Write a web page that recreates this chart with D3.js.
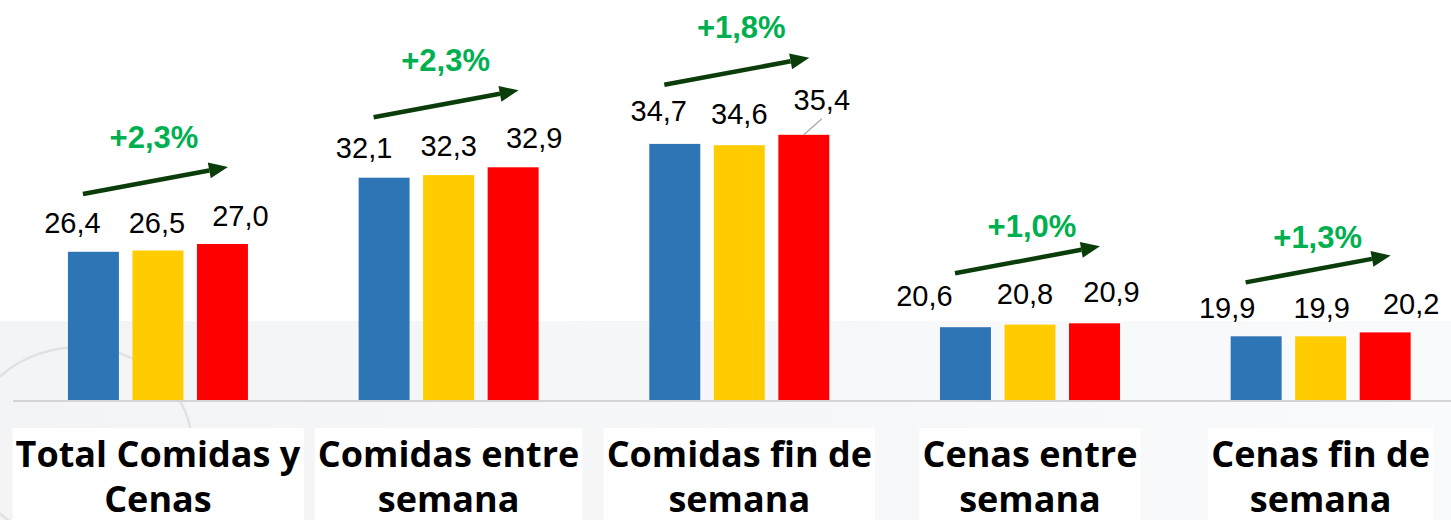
<!DOCTYPE html>
<html>
<head>
<meta charset="utf-8">
<script src="https://cdn.jsdelivr.net/npm/d3@7"></script>
<style>
	html, body { margin: 0; padding: 0; background: #fff; }
	svg { display: block; }
</style>
</head>
<body>
<div id="chart"></div>
<script>
// data
var categories = ["Total Comidas y Cenas", "Comidas entre semana", "Comidas fin de semana", "Cenas entre semana", "Cenas fin de semana"];
var categoryLines = [["Total Comidas y", "Cenas"], ["Comidas entre", "semana"], ["Comidas fin de", "semana"], ["Cenas entre", "semana"], ["Cenas fin de", "semana"]];
var series = ["Periodo 1", "Periodo 2", "Periodo 3"];
var valuesP1 = [26.4, 32.1, 34.7, 20.6, 19.9];
var valuesP2 = [26.5, 32.3, 34.6, 20.8, 19.9];
var valuesP3 = [27.0, 32.9, 35.4, 20.9, 20.2];
var growth = ["+2,3%", "+2,3%", "+1,8%", "+1,0%", "+1,3%"];

// layout tweaks (hand placed labels, like the original)
var labelDx = [[-21, -1, 18], [-20, 0, 21], [-16, 0, 18], [-41, -5, 17], [-29, 1, 26]];
var labelDy = [[-19, -18, -18], [-20, -19, -19], [-23, -21, -25], [-21, -21, -21], [-18, -18, -18]];
var leader = [[0, 0, 0], [0, 0, 0], [0, 0, 1], [0, 0, 0], [0, 0, 0]];
var pctDx = [-4, -3, 2, 2, -3];
var pctDy = [-19, -19, -20, -9, -7];

var colors = ["#2E75B6", "#FFCC00", "#FF0000"];
var width = 1451, height = 520;
var baseY = 400;

var allValues = [valuesP1, valuesP2, valuesP3];
var fmt = d3.formatLocale({decimal: ",", thousands: ".", grouping: [3], currency: ["", "€"]}).format(".1f");

var svg = d3.select("#chart").append("svg")
	.attr("width", width)
	.attr("height", height);

// background
var defs = svg.append("defs");
var grad = defs.append("linearGradient").attr("id", "bg").attr("x1", 0).attr("x2", 1);
grad.append("stop").attr("offset", 0).attr("stop-color", "#f3f4f6");
grad.append("stop").attr("offset", 1).attr("stop-color", "#f9fafb");
defs.append("clipPath").attr("id", "bgclip")
	.append("rect").attr("x", 0).attr("y", 321).attr("width", width).attr("height", height - 321);

svg.append("rect").attr("width", width).attr("height", height).attr("fill", "#fff");
svg.append("rect").attr("x", 0).attr("y", 321).attr("width", width).attr("height", height - 321).attr("fill", "url(#bg)");
svg.append("ellipse")
	.attr("clip-path", "url(#bgclip)")
	.attr("cx", 80).attr("cy", 445).attr("rx", 112).attr("ry", 98)
	.attr("fill", "none").attr("stroke", "#e0e1e3").attr("stroke-width", 2.5);

// scales
var x0 = d3.scaleBand().domain(categories).range([12.6, 1466]);
var x1 = d3.scaleBand().domain(series)
	.range([x0.bandwidth() / 2 - 90, x0.bandwidth() / 2 + 90])
	.paddingInner(0.21);
var y = d3.scaleLinear().domain([15, 40]).range([baseY, 75]);

// baseline
svg.append("line")
	.attr("x1", 13).attr("x2", width)
	.attr("y1", baseY + 1).attr("y2", baseY + 1)
	.attr("stroke", "#d4d4d6").attr("stroke-width", 2);

var groups = svg.append("g").selectAll("g")
	.data(categories)
	.enter().append("g")
	.attr("transform", d => "translate(" + x0(d) + ",0)");

groups.selectAll("rect")
	.data((d, i) => series.map((s, j) => ({s: s, j: j, v: allValues[j][i]})))
	.enter().append("rect")
	.attr("x", d => x1(d.s))
	.attr("y", d => y(d.v))
	.attr("width", x1.bandwidth())
	.attr("height", d => baseY - y(d.v))
	.attr("fill", (d) => colors[d.j]);

// value labels
groups.each(function(cat, i) {
	var g = d3.select(this);
	series.forEach(function(s, j) {
		var v = allValues[j][i];
		var cx = x1(s) + x1.bandwidth() / 2;
		var lx = cx + labelDx[i][j];
		var ly = y(v) + labelDy[i][j];
		if (leader[i][j]) {
			g.append("line")
				.attr("x1", cx).attr("y1", y(v))
				.attr("x2", lx).attr("y2", ly + 9)
				.attr("stroke", "#a6a6a6").attr("stroke-width", 1.2);
		}
		g.append("text")
			.attr("x", lx).attr("y", ly)
			.attr("text-anchor", "middle")
			.style("font-family", "'Liberation Sans', Arial, sans-serif")
			.style("font-size", "29px")
			.style("fill", "#000")
			.text(fmt(v));
	});

	// growth arrow
	var c = x0.bandwidth() / 2;
	var top = d3.min(allValues, a => y(a[i]));
	var sx = c - 75, sy = top - 50, tx = c + 70, ty = top - 77;
	var ang = Math.atan2(ty - sy, tx - sx);
	var hl = 19, hw = 8;
	var bx = tx - hl * Math.cos(ang), by = ty - hl * Math.sin(ang);
	g.append("line")
		.attr("x1", sx).attr("y1", sy).attr("x2", bx).attr("y2", by)
		.attr("stroke", "#0b3d0b").attr("stroke-width", 4.5);
	g.append("path")
		.attr("d", "M" + tx + "," + ty +
			"L" + (bx + hw * Math.sin(ang)) + "," + (by - hw * Math.cos(ang)) +
			"L" + (bx - hw * Math.sin(ang)) + "," + (by + hw * Math.cos(ang)) + "Z")
		.attr("fill", "#0b3d0b");

	g.append("text")
		.attr("x", c + pctDx[i]).attr("y", ty + pctDy[i])
		.attr("text-anchor", "middle")
		.style("font-family", "'Liberation Sans', Arial, sans-serif")
		.style("font-weight", "bold")
		.style("font-size", "31px")
		.style("fill", "#00B050")
		.text(growth[i]);

	// category label with white box
	var lab = g.append("text")
		.attr("text-anchor", "middle")
		.style("font-family", "'Open Sans', sans-serif")
		.style("font-weight", "bold")
		.style("font-size", "36px")
		.style("fill", "#000");
	categoryLines[i].forEach(function(line, k) {
		lab.append("tspan").attr("x", c).attr("y", 467 + k * 45).text(line);
	});
	var bb = lab.node().getBBox();
	g.insert("rect", "text")
		.attr("x", bb.x - 3).attr("y", 428)
		.attr("width", bb.width + 6).attr("height", height - 428)
		.attr("fill", "#fff");
});
</script>
</body>
</html>
